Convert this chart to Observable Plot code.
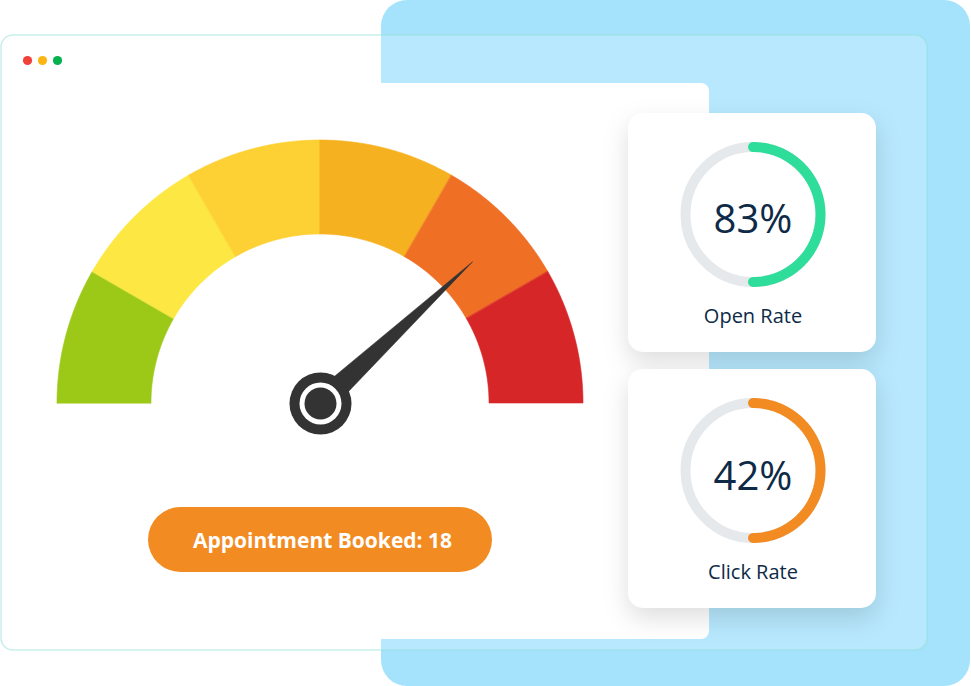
<!DOCTYPE html>
<html>
<head>
<meta charset="utf-8">
<script src="https://cdn.jsdelivr.net/npm/d3@7"></script>
<script src="https://cdn.jsdelivr.net/npm/@observablehq/plot@0.6"></script>
<style>
  html, body { margin: 0; padding: 0; background: #ffffff; overflow: hidden; }
  #chart svg { display: block; }
</style>
</head>
<body>
<div id="chart"></div>
<script>
// ---------- DATA ----------
const gaugeBands = ["Very low", "Low", "Below average", "Above average", "High", "Very high"];
const gaugeBandStart = [0, 30, 60, 90, 120, 150];   // degrees along the 180° dial
const gaugeBandEnd   = [30, 60, 90, 120, 150, 180];
const needleValue = 137;                            // degrees along the dial
const appointmentsBooked = 18;
const rateLabels = ["Open Rate", "Click Rate"];
const rateValues = [83, 42];                        // %
const rateArcShare = [50, 50];                      // % of ring drawn as seen in the picture
const windowButtons = ["close", "minimize", "maximize"];

// ---------- STYLE ----------
const S = {
  bandColors: ["#9cc918", "#fde843", "#fdd033", "#f6b121", "#ef6f25", "#d72628"],
  rateColors: ["#2fdd9a", "#f28b22"],
  dotColors: ["#f0413a", "#fbb514", "#04b14c"],
  blue: "#a5e3fd",
  track: "#e5e9ec",
  needle: "#333333",
  ink: "#0e2a47",
  button: "#f28b22",
  font: "'Open Sans', 'Noto Sans', sans-serif"
};

// ---------- LAYOUT ----------
const W = 971, H = 686;
const L = {
  blue:  {x1: 381, x2: 970, y1: 0,  y2: 686, rx: 26},
  win:   {x1: 1,   x2: 927, y1: 35, y2: 650, rx: 12},
  inner: {x1: 14,  x2: 709, y1: 83, y2: 639, rx: 8},
  dots:  {x0: 27, dx: 15, y: 60, r: 4.6},
  gauge: {cx: 320, cy: 403, r0: 169, r1: 263, needle: 208, needleHalf: 12, hub: [31, 21, 16]},
  button:{x1: 148, x2: 492, y1: 507, y2: 572, textY: 547},
  cards: [
    {x1: 628, x2: 876, y1: 113, y2: 352, cx: 752.5, cy: 214, valueY: 232, labelY: 322},
    {x1: 628, x2: 876, y1: 369, y2: 608, cx: 752.5, cy: 470, valueY: 489, labelY: 578}
  ],
  ring: {r: 67.5, w: 10}
};

// ---------- DERIVED GEOMETRY ----------
const g = L.gauge;
const rad = deg => Math.PI * (1 - deg / 180);   // dial degrees -> math angle
const gaugeData = gaugeBands.flatMap((band, i) => {
  const n = 60, pts = [];
  for (let k = 0; k <= n; k++) {
    const a = rad(gaugeBandStart[i] + (gaugeBandEnd[i] - gaugeBandStart[i]) * k / n);
    pts.push({
      band, color: S.bandColors[i],
      xi: g.cx + g.r0 * Math.cos(a), yi: g.cy - g.r0 * Math.sin(a),
      xo: g.cx + g.r1 * Math.cos(a), yo: g.cy - g.r1 * Math.sin(a)
    });
  }
  return pts;
});
const na = rad(needleValue);
const needleData = [
  {x: g.cx + g.needleHalf * Math.sin(na), y: g.cy + g.needleHalf * Math.cos(na)},
  {x: g.cx + g.needle * Math.cos(na), y: g.cy - g.needle * Math.sin(na)},
  {x: g.cx - g.needleHalf * Math.sin(na), y: g.cy - g.needleHalf * Math.cos(na)}
];
const hubData = g.hub.map((r, i) => ({x: g.cx, y: g.cy, r, fill: i % 2 ? "#ffffff" : S.needle}));

const cardData = rateLabels.map((label, i) => ({label, value: rateValues[i], ...L.cards[i]}));
const arcData = rateLabels.flatMap((label, i) => {
  const c = L.cards[i], n = 90, pts = [];
  for (let k = 0; k <= n; k++) {
    const phi = 2 * Math.PI * (rateArcShare[i] / 100) * k / n;
    pts.push({label, color: S.rateColors[i], x: c.cx + L.ring.r * Math.sin(phi), y: c.cy - L.ring.r * Math.cos(phi)});
  }
  return pts;
});
const dotData = windowButtons.map((name, i) => ({name, x: L.dots.x0 + i * L.dots.dx, y: L.dots.y, color: S.dotColors[i]}));

// ---------- PLOT ----------
const chart = Plot.plot({
  width: W, height: H,
  margin: 0,
  x: {domain: [0, W], range: [0, W], axis: null},
  y: {domain: [0, H], range: [0, H], axis: null},
  r: {type: "identity"},
  color: {type: "identity"},
  style: {background: "#ffffff"},
  marks: [
    Plot.rect([L.blue], {x1: "x1", x2: "x2", y1: "y1", y2: "y2", rx: L.blue.rx, fill: S.blue}),
    Plot.rect([L.win], {x1: "x1", x2: "x2", y1: "y1", y2: "y2", rx: L.win.rx, fill: "#ffffff", fillOpacity: 0.2, stroke: "#8fe0d6", strokeOpacity: 0.5, strokeWidth: 1.5}),
    Plot.rect([L.inner], {x1: "x1", x2: "x2", y1: "y1", y2: "y2", rx: L.inner.rx, fill: "#ffffff"}),
    Plot.dot(dotData, {x: "x", y: "y", r: L.dots.r, fill: "color"}),
    // gauge bands
    Plot.area(gaugeData, {x1: "xi", y1: "yi", x2: "xo", y2: "yo", z: "band", fill: "color", stroke: "color", strokeWidth: 0.6}),
    // needle + hub
    Plot.line(needleData, {x: "x", y: "y", fill: S.needle, stroke: S.needle, strokeWidth: 0.5, curve: "linear-closed"}),
    Plot.dot(hubData, {x: "x", y: "y", r: "r", fill: "fill"}),
    // button
    Plot.rect([L.button], {x1: "x1", x2: "x2", y1: "y1", y2: "y2", rx: (L.button.y2 - L.button.y1) / 2, fill: S.button}),
    Plot.text([`Appointment Booked: ${appointmentsBooked}`], {x: (L.button.x1 + L.button.x2) / 2 + 2, y: L.button.textY, text: d => d, fill: "#ffffff", fontSize: 21, fontWeight: 700, fontFamily: S.font, textAnchor: "middle", lineAnchor: "bottom"}),
    // rate cards
    Plot.rect(cardData, {x1: "x1", x2: "x2", y1: "y1", y2: "y2", rx: 15, fill: "#ffffff", imageFilter: "drop-shadow(0px 10px 12px rgba(0,0,0,0.13))"}),
    Plot.dot(cardData, {x: "cx", y: "cy", r: L.ring.r, stroke: S.track, strokeWidth: L.ring.w, fill: "none"}),
    Plot.line(arcData, {x: "x", y: "y", z: "label", stroke: "color", strokeWidth: L.ring.w, strokeLinecap: "round"}),
    Plot.text(cardData, {x: "cx", y: "valueY", text: d => `${d.value}%`, fill: S.ink, fontSize: 40, fontWeight: 400, fontFamily: S.font, textAnchor: "middle", lineAnchor: "bottom"}),
    Plot.text(cardData, {x: "cx", y: "labelY", text: "label", fill: S.ink, fontSize: 20, fontWeight: 400, fontFamily: S.font, textAnchor: "middle", lineAnchor: "bottom"})
  ]
});
document.getElementById("chart").appendChild(chart);
</script>
</body>
</html>
